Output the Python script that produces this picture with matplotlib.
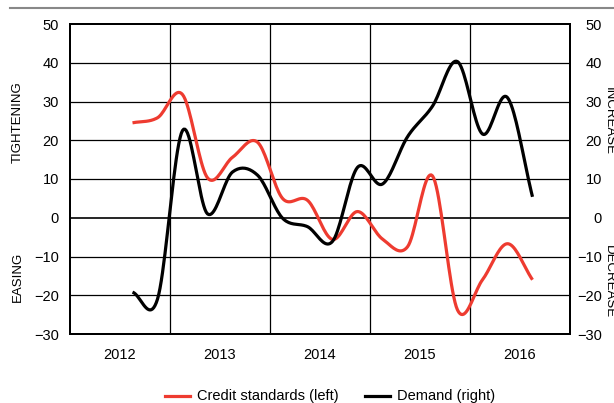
import numpy as np
import matplotlib
matplotlib.use("Agg")
import matplotlib.pyplot as plt
from matplotlib import font_manager

names = {f.name for f in font_manager.fontManager.ttflist}
FONT = "Liberation Sans Narrow" if "Liberation Sans Narrow" in names else "Liberation Sans"
plt.rcParams['font.family'] = [FONT, 'DejaVu Sans']

# Quarterly data 2012Q3 .. 2016Q3 (placed at mid-quarter)
quarters = ["2012Q3", "2012Q4", "2013Q1", "2013Q2", "2013Q3", "2013Q4",
            "2014Q1", "2014Q2", "2014Q3", "2014Q4", "2015Q1", "2015Q2",
            "2015Q3", "2015Q4", "2016Q1", "2016Q2", "2016Q3"]
credit_standards = [24.5, 25.8, 31.8, 10.3, 15.6, 19.5, 5.0, 4.5, -5.6, 1.6,
                    -5.5, -7.5, 10.8, -23.8, -16.0, -6.7, -16.0]
demand = [-19.2, -21.0, 22.5, 1.0, 11.8, 11.0, -0.1, -2.3, -6.1, 13.0,
          8.7, 20.9, 28.8, 40.3, 21.6, 31.0, 5.4]
year_labels = ["2012", "2013", "2014", "2015", "2016"]
y_ticks = [-30, -20, -10, 0, 10, 20, 30, 40, 50]


def qpos(q):
    y = int(q[:4]); n = int(q[-1])
    return y + (n - 1) * 0.25 + 0.125


def catmull(x, y, n=20):
    x = np.asarray(x, float); y = np.asarray(y, float)
    px = np.concatenate([[2 * x[0] - x[1]], x, [2 * x[-1] - x[-2]]])
    py = np.concatenate([[2 * y[0] - y[1]], y, [2 * y[-1] - y[-2]]])
    xs, ys = [], []
    t = np.linspace(0, 1, n, endpoint=False)
    for i in range(1, len(px) - 2):
        p0, p1, p2, p3 = py[i - 1], py[i], py[i + 1], py[i + 2]
        ys.append(0.5 * ((2 * p1) + (-p0 + p2) * t + (2 * p0 - 5 * p1 + 4 * p2 - p3) * t ** 2
                         + (-p0 + 3 * p1 - 3 * p2 + p3) * t ** 3))
        xs.append(px[i] + (px[i + 1] - px[i]) * t)
    xs.append([x[-1]]); ys.append([y[-1]])
    return np.concatenate(xs), np.concatenate(ys)


xq = [qpos(q) for q in quarters]

fig = plt.figure(figsize=(6.14, 4.03), dpi=100)
ax = fig.add_axes([70 / 614, 1 - 334 / 403, 500 / 614, 310 / 403])
ax2 = ax.twinx()

ax.set_xlim(2012, 2017)
ax.set_ylim(-30, 50)
ax2.set_ylim(-30, 50)

for v in [2013, 2014, 2015, 2016]:
    ax.axvline(v, color='black', lw=0.9, zorder=1)
for v in y_ticks[1:-1]:
    ax.axhline(v, color='black', lw=1.2 if v == 0 else 0.9, zorder=1)

xs, ys = catmull(xq, credit_standards)
ax.plot(xs, ys, color='#EE3B30', lw=2.3, zorder=3, solid_capstyle='butt')
xs, ys = catmull(xq, demand)
ax2.plot(xs, ys, color='black', lw=2.3, zorder=3, solid_capstyle='butt')

ax.set_xticks([2012.5 + i for i in range(5)])
ax.set_xticklabels(year_labels)
ax.set_yticks(y_ticks)
ax.set_yticklabels([str(v).replace('-', '\u2212') for v in y_ticks])
ax2.set_yticks(y_ticks)
ax2.set_yticklabels([str(v).replace('-', '\u2212') for v in y_ticks])
for a in (ax, ax2):
    a.tick_params(length=0, labelsize=10.5)
    for s in a.spines.values():
        s.set_linewidth(1.4)
ax.tick_params(axis='y', pad=8)
ax2.tick_params(axis='y', pad=23)
for lab in ax2.get_yticklabels():
    lab.set_horizontalalignment('right')
ax.tick_params(axis='x', pad=10)

# side labels
fig.text(18 / 614, 1 - 122 / 403, "TIGHTENING", rotation=90, ha='center', va='center', fontsize=9.5)
fig.text(18 / 614, 1 - 277 / 403, "EASING", rotation=90, ha='center', va='center', fontsize=9.5)
fig.text(609 / 614, 1 - 121 / 403, "INCREASE", rotation=-90, ha='center', va='center', fontsize=9.5)
fig.text(609 / 614, 1 - 282 / 403, "DECREASE", rotation=-90, ha='center', va='center', fontsize=9.5)

# top rule
fig.add_artist(plt.Line2D([10 / 614, 1], [1 - 8 / 403, 1 - 8 / 403], color='#888888', lw=1.5))

# legend
ly = 1 - 396 / 403
fig.add_artist(plt.Line2D([165 / 614, 190 / 614], [ly, ly], color='#EE3B30', lw=2.3))
fig.text(197 / 614, ly, "Credit standards (left)", ha='left', va='center', fontsize=10.5)
fig.add_artist(plt.Line2D([365 / 614, 390 / 614], [ly, ly], color='black', lw=2.3))
fig.text(397 / 614, ly, "Demand (right)", ha='left', va='center', fontsize=10.5)

fig.savefig("out.png", dpi=100)
